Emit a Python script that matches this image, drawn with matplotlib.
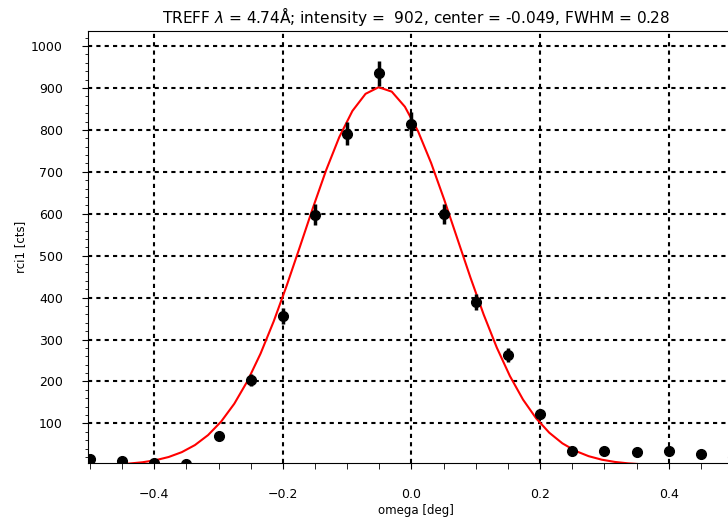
import numpy as np
import matplotlib
matplotlib.use("Agg")
import matplotlib.pyplot as plt
from matplotlib.ticker import MultipleLocator

# measured data (omega, counts)
omega = [-0.50, -0.45, -0.40, -0.35, -0.30, -0.25, -0.20, -0.15, -0.10, -0.05,
         0.00, 0.05, 0.10, 0.15, 0.20, 0.25, 0.30, 0.35, 0.40, 0.45, 0.50]
counts = [16, 11, 5, 3, 71, 203, 356, 598, 791, 935,
          815, 599, 389, 263, 122, 33, 35, 31, 33, 26, 20]

# fit parameters (from title)
fit_intensity = 902
fit_center = -0.049
fit_fwhm = 0.28
wavelength = 4.74

fig = plt.figure(figsize=(7.28, 5.19), dpi=100)
ax = fig.add_axes([0.1209, 0.1079, 0.901, 0.8324])

x = np.array(omega)
y = np.array(counts, dtype=float)
ax.errorbar(x, y, yerr=np.sqrt(y), fmt='o', color='black', ms=7, elinewidth=2.5, capsize=0, zorder=3)

sigma = fit_fwhm / (2 * np.sqrt(2 * np.log(2)))
xf = np.linspace(-0.5, 0.5, 50)
yf = fit_intensity * np.exp(-0.5 * ((xf - fit_center) / sigma) ** 2)
ax.plot(xf, yf, color='red', lw=1.5, zorder=2)

ax.set_xlim(-0.503, 0.517)
ax.set_ylim(5.5, 1036)
ax.xaxis.set_major_locator(MultipleLocator(0.2))
ax.xaxis.set_minor_locator(MultipleLocator(0.05))
ax.yaxis.set_major_locator(MultipleLocator(100))
ax.yaxis.set_minor_locator(MultipleLocator(20))
ax.set_yticks([100, 200, 300, 400, 500, 600, 700, 800, 900, 1000])
ax.grid(True, which='major', color='black', linestyle=(0, (2, 2)), linewidth=1.5)
ax.tick_params(axis='both', which='major', labelsize=9, length=4, pad=14)
ax.tick_params(axis='x', which='minor', length=4)
ax.tick_params(axis='y', which='minor', length=2.5)
ax.set_xlabel('omega [deg]', fontsize=8.5, labelpad=2)
ax.set_ylabel('rci1 [cts]', fontsize=8.5, labelpad=3)
ax.set_title(r'TREFF $\lambda$ = %.2fÅ; intensity =  %d, center = %.3f, FWHM = %.2f'
             % (wavelength, fit_intensity, fit_center, fit_fwhm), fontsize=11.1)

fig.savefig('out.png', dpi=100)
